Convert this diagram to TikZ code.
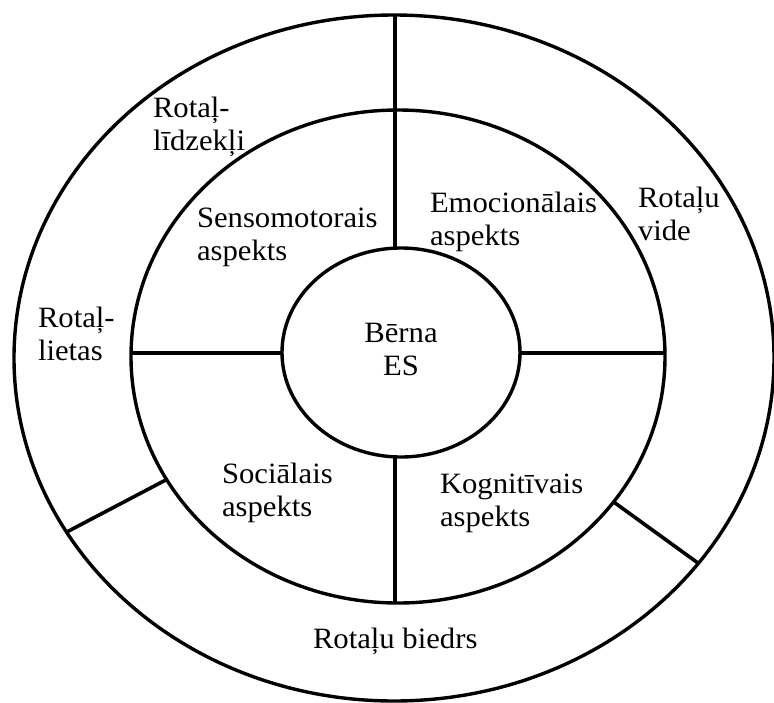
\documentclass[tikz,border=0pt]{standalone}
\usepackage{fontspec}
\setmainfont{Liberation Serif}[FakeStretch=1.04]
\usetikzlibrary{shapes.geometric}
\begin{document}
\begin{tikzpicture}[x=1pt,y=-1pt,
  ring/.style={draw, ellipse, line width=3.4pt, inner sep=0pt, outer sep=0pt},
  divider/.style={line width=3.6pt},
  lbl/.style={inner sep=0pt, outer sep=0pt, anchor=base west, font=\fontsize{29.5}{33}\selectfont},
  clbl/.style={lbl, anchor=base}
  ]
\useasboundingbox (0,0) rectangle (774,702);
\node[ring, minimum width=760pt, minimum height=686pt] (outer) at (394,358) {};
\node[ring, minimum width=534pt, minimum height=493pt] (middle) at (398,356.5) {};
\node[ring, minimum width=238pt, minimum height=209pt] (inner) at (401,352.5) {};
\coordinate (vx) at (395,353);
\draw[divider] (vx |- outer.north) -- (vx |- inner.north);
\draw[divider] (vx |- inner.south) -- (vx |- middle.south);
\draw[divider] (middle.west |- vx) -- (inner.west |- vx);
\draw[divider] (inner.east |- vx) -- (middle.east |- vx);
\draw[divider] (middle.208) -- (outer.208);
\draw[divider] (middle.326.5) -- (outer.326.5);
\node[lbl] (ltools) at (153,117) {\begin{tabular}[t]{@{}l@{}}Rotaļ-\\līdzekļi\end{tabular}};
\node[lbl] (lsens) at (197,227) {\begin{tabular}[t]{@{}l@{}}Sensomotorais\\aspekts\end{tabular}};
\node[lbl] (lemo) at (430,212) {\begin{tabular}[t]{@{}l@{}}Emocionālais\\aspekts\end{tabular}};
\node[lbl] (lenv) at (638,207) {\begin{tabular}[t]{@{}l@{}}Rotaļu\\vide\end{tabular}};
\node[lbl] (lthings) at (38,327) {\begin{tabular}[t]{@{}l@{}}Rotaļ-\\lietas\end{tabular}};
\node[lbl] (lsoc) at (222,483) {\begin{tabular}[t]{@{}l@{}}Sociālais\\aspekts\end{tabular}};
\node[lbl] (lkog) at (440,493) {\begin{tabular}[t]{@{}l@{}}Kognitīvais\\aspekts\end{tabular}};
\node[lbl] (lpartner) at (313,648) {Rotaļu biedrs};
\node[clbl] (lchild) at (401,342) {\begin{tabular}[t]{@{}c@{}}Bērna\\ES\end{tabular}};
\end{tikzpicture}
\end{document}
